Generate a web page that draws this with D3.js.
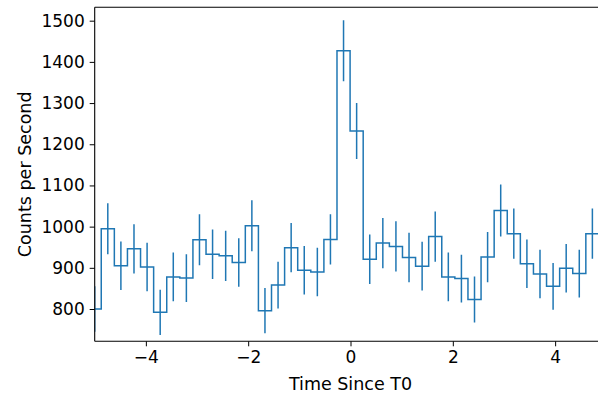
<!DOCTYPE html>
<html>
<head>
<meta charset="utf-8">
<script src="https://cdn.jsdelivr.net/npm/d3@7"></script>
<style>
  body { margin: 0; background: #fff; }
  svg { display: block; }
  text { font-family: "DejaVu Sans", sans-serif; fill: #000; }
</style>
</head>
<body>
<svg id="chart"></svg>
<script>
// bin centres (s)
var times = [-5.000, -4.744, -4.488, -4.232, -3.976, -3.720, -3.464, -3.208, -2.952, -2.696,
             -2.440, -2.184, -1.928, -1.672, -1.416, -1.160, -0.904, -0.648, -0.392, -0.136,
              0.120,  0.376,  0.632,  0.888,  1.144,  1.400,  1.656,  1.912,  2.168,  2.424,
              2.680,  2.936,  3.192,  3.448,  3.704,  3.960,  4.216,  4.472,  4.728];
// rate (counts per second)
var rates = [800, 995, 905, 946, 902, 792, 878, 875, 968, 933,
             929, 913, 1002, 796, 858, 949, 894, 890, 969, 1427,
             1232, 921, 960, 952, 925, 904, 976, 878, 874, 823,
             926, 1039, 983, 910, 885, 855, 899, 886, 983];
// half length of the error bars
var errs = [55, 62, 59, 60, 59, 55, 59, 58, 62, 60,
            61, 59, 62, 55, 57, 60, 59, 59, 61, 74,
            68, 60, 61, 61, 60, 59, 61, 59, 58, 56,
            61, 63, 61, 59, 59, 57, 59, 58, 61];
var xTicks = [-4, -2, 0, 2, 4];
var yTicks = [800, 900, 1000, 1100, 1200, 1300, 1400, 1500];

var width = 598, height = 393;
var mLeft = 94.7, mRight = 606.3, mTop = 7.3, mBottom = 341.3;
var blue = '#1f77b4';

var svg = d3.select('#chart').attr('width', width).attr('height', height);

var x = d3.scaleLinear().domain([-5, 5]).range([mLeft, mRight]);
var y = d3.scaleLinear().domain([721.6, 1532.5]).range([mBottom, mTop]);

svg.append('defs').append('clipPath').attr('id', 'plotclip')
  .append('rect')
  .attr('x', mLeft).attr('y', mTop)
  .attr('width', mRight - mLeft).attr('height', mBottom - mTop);

var data = times.map(function (t, i) { return { t: t, r: rates[i], e: errs[i] }; });

var plot = svg.append('g').attr('clip-path', 'url(#plotclip)');

// step line, last level carried to the right edge
var stepData = data.concat([{ t: x.domain()[1], r: rates[rates.length - 1] }]);
var line = d3.line()
  .x(function (d) { return x(d.t); })
  .y(function (d) { return y(d.r); })
  .curve(d3.curveStep);

plot.append('path')
  .datum(stepData)
  .attr('fill', 'none')
  .attr('stroke', blue)
  .attr('stroke-width', 1.5)
  .attr('d', line);

// error bars
plot.selectAll('line.err')
  .data(data)
  .enter().append('line')
  .attr('class', 'err')
  .attr('x1', function (d) { return x(d.t); })
  .attr('x2', function (d) { return x(d.t); })
  .attr('y1', function (d) { return y(d.r - d.e); })
  .attr('y2', function (d) { return y(d.r + d.e); })
  .attr('stroke', blue)
  .attr('stroke-width', 1.5);

// axes
var xAxis = d3.axisBottom(x).tickValues(xTicks).tickSize(5).tickPadding(5)
  .tickFormat(function (d) { return d < 0 ? '\u2212' + Math.abs(d) : d; });
var yAxis = d3.axisLeft(y).tickValues(yTicks).tickSize(5).tickPadding(5)
  .tickFormat(d3.format('d'));

var gx = svg.append('g').attr('transform', 'translate(0,' + mBottom + ')').call(xAxis);
var gy = svg.append('g').attr('transform', 'translate(' + mLeft + ',0)').call(yAxis);

[gx, gy].forEach(function (g) {
  g.attr('font-size', 17).attr('font-family', '"DejaVu Sans", sans-serif');
  g.select('.domain').remove();
  g.selectAll('.tick line').attr('stroke', '#000').attr('stroke-width', 1);
  g.selectAll('.tick text').attr('fill', '#000');
});

// spines
var spines = [[mLeft, mTop, mLeft, mBottom], [mLeft, mBottom, mRight, mBottom],
              [mLeft, mTop, mRight, mTop], [mRight, mTop, mRight, mBottom]];
svg.selectAll('line.spine')
  .data(spines)
  .enter().append('line')
  .attr('class', 'spine')
  .attr('x1', function (d) { return d[0]; })
  .attr('y1', function (d) { return d[1]; })
  .attr('x2', function (d) { return d[2]; })
  .attr('y2', function (d) { return d[3]; })
  .attr('stroke', '#000')
  .attr('stroke-width', 1.1);

// axis labels
svg.append('text')
  .attr('x', (mLeft + mRight) / 2)
  .attr('y', 390)
  .attr('text-anchor', 'middle')
  .attr('font-size', 17.5)
  .text('Time Since T0');

svg.append('text')
  .attr('transform', 'translate(31,' + (mTop + mBottom) / 2 + ') rotate(-90)')
  .attr('text-anchor', 'middle')
  .attr('font-size', 17.5)
  .text('Counts per Second');
</script>
</body>
</html>
